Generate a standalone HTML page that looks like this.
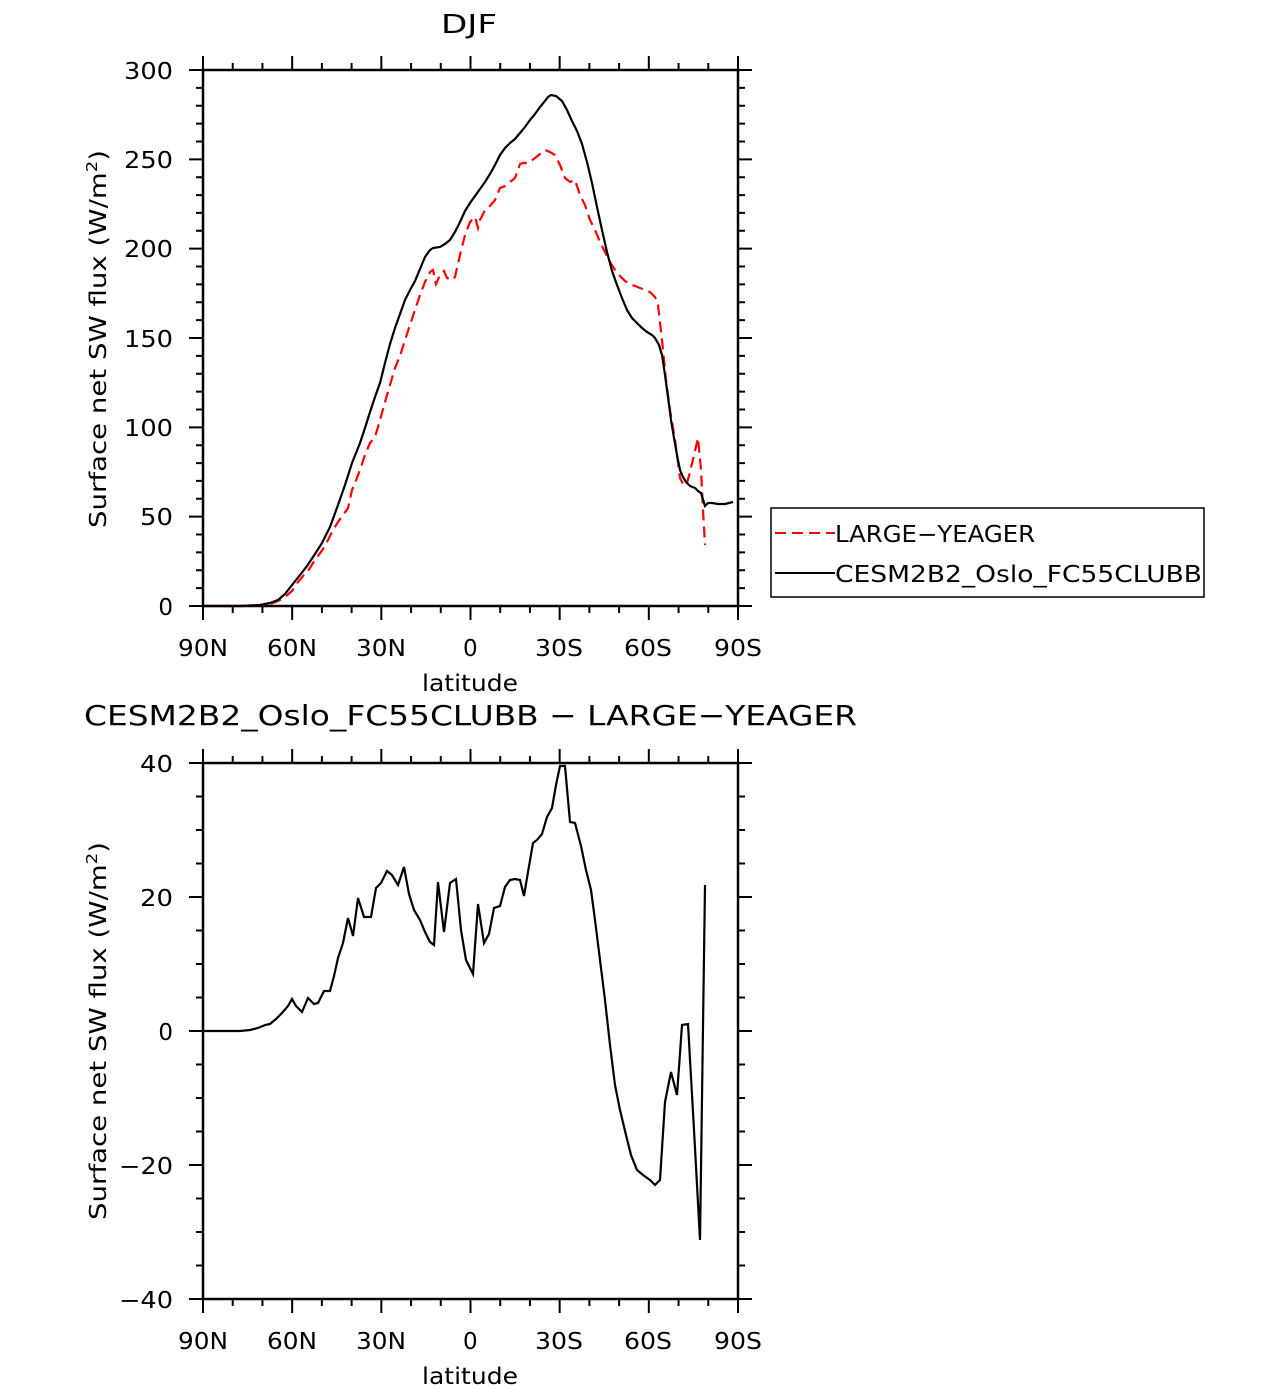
<!DOCTYPE html>
<html><head><meta charset="utf-8"><style>html,body{margin:0;padding:0;background:#fff}svg{display:block}text{font-family:"DejaVu Sans","Liberation Sans",sans-serif;fill:#000}</style></head>
<body>
<svg id="s" width="1285" height="1390" viewBox="0 0 1285 1390" xmlns="http://www.w3.org/2000/svg">
<g id="ticks" stroke="#000" stroke-width="2" fill="none"></g>
<rect x="203" y="70" width="535" height="536" fill="none" stroke="#000" stroke-width="2.5"/>
<rect x="203" y="763" width="535" height="536" fill="none" stroke="#000" stroke-width="2.5"/>
<text x="441" y="33" font-size="26" textLength="56" lengthAdjust="spacingAndGlyphs">DJF</text>
<g font-size="23" text-anchor="end">
<text x="173" y="79" textLength="49" lengthAdjust="spacingAndGlyphs">300</text><text x="173" y="168" textLength="49" lengthAdjust="spacingAndGlyphs">250</text><text x="173" y="257" textLength="49" lengthAdjust="spacingAndGlyphs">200</text><text x="173" y="347" textLength="49" lengthAdjust="spacingAndGlyphs">150</text><text x="173" y="436" textLength="49" lengthAdjust="spacingAndGlyphs">100</text><text x="173" y="525" textLength="33" lengthAdjust="spacingAndGlyphs">50</text><text x="173" y="615">0</text>
<text x="173" y="772" textLength="33" lengthAdjust="spacingAndGlyphs">40</text><text x="173" y="906" textLength="33" lengthAdjust="spacingAndGlyphs">20</text><text x="173" y="1040">0</text><text x="173" y="1174" textLength="54" lengthAdjust="spacingAndGlyphs">−20</text><text x="173" y="1308" textLength="54" lengthAdjust="spacingAndGlyphs">−40</text>
</g>
<g font-size="23">
<text x="178" y="656" textLength="50" lengthAdjust="spacingAndGlyphs">90N</text><text x="267" y="656" textLength="50" lengthAdjust="spacingAndGlyphs">60N</text><text x="356" y="656" textLength="50" lengthAdjust="spacingAndGlyphs">30N</text><text x="463" y="656">0</text><text x="535" y="656" textLength="48" lengthAdjust="spacingAndGlyphs">30S</text><text x="624" y="656" textLength="48" lengthAdjust="spacingAndGlyphs">60S</text><text x="714" y="656" textLength="48" lengthAdjust="spacingAndGlyphs">90S</text>
<text x="422" y="691" textLength="96" lengthAdjust="spacingAndGlyphs">latitude</text>
<text x="178" y="1349" textLength="50" lengthAdjust="spacingAndGlyphs">90N</text><text x="267" y="1349" textLength="50" lengthAdjust="spacingAndGlyphs">60N</text><text x="356" y="1349" textLength="50" lengthAdjust="spacingAndGlyphs">30N</text><text x="463" y="1349">0</text><text x="535" y="1349" textLength="48" lengthAdjust="spacingAndGlyphs">30S</text><text x="624" y="1349" textLength="48" lengthAdjust="spacingAndGlyphs">60S</text><text x="714" y="1349" textLength="48" lengthAdjust="spacingAndGlyphs">90S</text>
<text x="422" y="1384" textLength="96" lengthAdjust="spacingAndGlyphs">latitude</text>
</g>
<text transform="translate(106,528) rotate(-90)" font-size="23" textLength="378" lengthAdjust="spacingAndGlyphs">Surface  net  SW  flux  (W/m<tspan dy="-9" font-size="15">2</tspan><tspan dy="9">)</tspan></text>
<text transform="translate(106,1220) rotate(-90)" font-size="23" textLength="378" lengthAdjust="spacingAndGlyphs">Surface  net  SW  flux  (W/m<tspan dy="-9" font-size="15">2</tspan><tspan dy="9">)</tspan></text>
<text x="84" y="725" font-size="28" textLength="773" lengthAdjust="spacingAndGlyphs">CESM2B2_Oslo_FC55CLUBB  −  LARGE−YEAGER</text>
<polyline fill="none" stroke="#f00" stroke-width="2.2" stroke-dasharray="11,6" points="203,606 245,606 260,605 270,604 278,601 285,597 292,591 298,582 303,576 308,571 313,563 318,556 323,549 328,540 333,530 338,522 343,515 348,508 352,490 355,483 360,470 365,455 370,443 375,437 380,420 385,402 390,385 395,368 400,356 405,340 410,325 415,310 420,295 425,282 430,272 433,270 436,284 440,275 444,271 447,278 452,280 455,277 460,255 465,235 470,222 475,217 478,228 480,220 485,210 490,206 495,200 500,188 505,186 510,182 515,178 520,164 523,163 528,163 535,158 540,154 545,150 550,152 555,155 560,165 565,178 570,182 575,180 580,195 585,205 590,220 595,230 600,242 605,252 610,262 615,270 620,276 625,281 630,284 640,288 650,292 655,297 658,305 662,340 666,380 670,410 675,440 680,478 684,486 687,483 690,472 694,455 698,438 701,470 703,510 705,545"/>
<polyline fill="none" stroke="#000" stroke-width="2.2" points="203,606 240,606 260,605 270,603 278,600 285,594 292,585 300,575 307,566 315,554 322,543 330,527 338,505 345,485 352,463 360,443 365,428 370,412 375,397 380,383 385,363 390,344 395,328 400,314 405,300 410,290 415,281 420,269 425,257 430,250 433,248 440,247 445,244 450,240 455,232 460,222 465,211 470,203 475,196 480,189 485,182 490,174 495,165 500,155 505,148 510,143 515,139 520,133 525,127 530,120 535,114 540,107 545,101 548,97 551,95 556,96 562,101 567,110 572,121 577,131 582,144 587,162 592,183 597,207 602,230 607,252 612,271 617,285 622,298 627,310 632,318 637,323 642,328 647,332 652,335 655,338 659,345 662,355 665,375 668,397 671,420 674,438 677,455 680,470 683,477 686,482 690,486 695,488 698,491 701,493 705,506 708,503 712,503 718,504 725,504 733,502"/>
<polyline fill="none" stroke="#000" stroke-width="2.2" points="203,1031 240,1031 250,1030 258,1028 265,1025 270,1024 276,1019 282,1013 288,1006 292,999 296,1006 302,1012 308,998 314,1004 318,1003 324,991 330,991 334,976 338,958 343,943 348,918 353,936 358,898 364,917 371,917 376,888 381,883 387,871 392,875 398,885 404,867 409,894 414,910 420,920 425,932 430,942 434,945 438,882 444,932 450,883 456,879 461,930 466,960 473,974 478,904 484,943 489,934 494,908 500,906 505,887 510,880 515,879 520,880 524,896 528,872 533,843 537,840 542,834 547,817 552,808 556,785 560,766 565,766 570,822 575,823 581,846 586,870 591,890 595,920 600,960 605,1000 610,1045 615,1085 620,1110 626,1135 631,1155 637,1170 643,1175 650,1180 655,1185 660,1180 665,1102 671,1072 677,1095 682,1025 688,1024 694,1130 700,1240 705,885"/>
<rect x="771" y="508" width="433" height="89" fill="#fff" stroke="#000" stroke-width="1.5"/>
<line x1="775" y1="533" x2="835" y2="533" stroke="#f00" stroke-width="2" stroke-dasharray="11,6"/>
<line x1="775" y1="573" x2="835" y2="573" stroke="#000" stroke-width="2"/>
<text x="835" y="542" font-size="23" textLength="200" lengthAdjust="spacingAndGlyphs">LARGE−YEAGER</text>
<text x="835" y="582" font-size="23" textLength="367" lengthAdjust="spacingAndGlyphs">CESM2B2_Oslo_FC55CLUBB</text>
</svg>
<script>
(function(){var g=document.getElementById('ticks'),d='';
function xt(top,bot){for(var i=0;i<=18;i++){var x=203+i*535/18,L=(i%3==0)?14:7;d+='M'+x+' '+bot+'v'+L+'M'+x+' '+top+'v'+(-L);}}
function yt(top,n,maj){for(var i=0;i<=n;i++){var y=top+i*536/n,L=(i%maj==0)?14:7;d+='M203 '+y+'h'+(-L)+'M738 '+y+'h'+L;}}
xt(70,606);xt(763,1299);yt(70,30,5);yt(763,16,4);
var p=document.createElementNS('http://www.w3.org/2000/svg','path');p.setAttribute('d',d);g.appendChild(p);})();
</script>
</body></html>
